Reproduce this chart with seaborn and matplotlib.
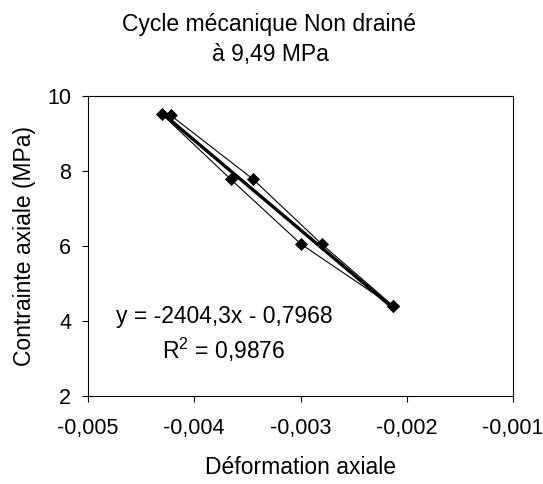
import numpy as np
import pandas as pd
import matplotlib
matplotlib.use("Agg")
import matplotlib.pyplot as plt
import seaborn as sns

# cycle points, in drawing order (up one branch, down the other)
deformation = [-0.002127, -0.002800, -0.003450, -0.004222, -0.004306, -0.003657, -0.002995, -0.002130]
contrainte = [4.40, 6.05, 7.79, 9.485, 9.52, 7.78, 6.05, 4.39]

eq_lines = ["y = -2404,3x - 0,7968", "R$^2$ = 0,9876"]
titre_lines = ["Cycle mécanique Non drainé", "à 9,49 MPa"]
xticks = [-0.005, -0.004, -0.003, -0.002, -0.001]
yticks = [2, 4, 6, 8, 10]

data = pd.DataFrame({"Deformation": deformation, "Contrainte": contrainte})

sns.set_style("ticks")
plt.rcParams["font.family"] = ["Liberation Sans", "DejaVu Sans"]
plt.rcParams["mathtext.fontset"] = "custom"
plt.rcParams["mathtext.rm"] = "Liberation Sans"
# pure black text like the original
plt.rcParams["text.color"] = "black"
plt.rcParams["axes.labelcolor"] = "black"
plt.rcParams["xtick.color"] = "black"
plt.rcParams["ytick.color"] = "black"

W, H = 543, 484
fig = plt.figure(figsize=(W / 100, H / 100), dpi=100)
ax = fig.add_axes([88 / W, 1 - 396 / H, (513 - 88) / W, (396 - 96) / H])

# thin line joining the cycle
sns.lineplot(x="Deformation", y="Contrainte", data=data, sort=False, estimator=None,
             color="black", linewidth=0.8, ax=ax)
# linear trend line (thick)
sns.regplot(x="Deformation", y="Contrainte", data=data, scatter=False, ci=None,
            truncate=True, color="black", line_kws={"linewidth": 2.4}, ax=ax)
sns.scatterplot(x="Deformation", y="Contrainte", data=data, marker="D", s=38,
                color="black", edgecolor="black", ax=ax, zorder=5)

ax.set_xlim(-0.005, -0.001)
ax.set_ylim(2, 10)
ax.set_xticks(xticks)
ax.set_yticks(yticks)
ax.set_xticklabels([f"{v:.3f}".replace(".", ",") for v in xticks])
ax.set_yticklabels([str(v) for v in yticks])
ax.tick_params(direction="out", length=4.5, width=0.8, colors="black", labelsize=15.5)
ax.tick_params(axis="x", pad=11)
ax.tick_params(axis="y", pad=7.5)
for s in ax.spines.values():
    s.set_visible(True)
    s.set_color("black")
    s.set_linewidth(0.8)

ax.set_xlabel("Déformation axiale", fontsize=16.5, color="black")
ax.set_ylabel("Contrainte axiale (MPa)", fontsize=16.5, color="black")
ax.xaxis.set_label_coords(0.5, (396 - 467) / 300)
ax.xaxis.label.set_va("center")
ax.yaxis.set_label_coords((24 - 88) / 425, 0.5)
ax.yaxis.label.set_va("center")

fig.text(269 / W, 1 - 25 / H, titre_lines[0], ha="center", va="center", fontsize=16.5)
fig.text(270 / W, 1 - 55 / H, titre_lines[1], ha="center", va="center", fontsize=16.5)
fig.text(224 / W, 1 - 317 / H, eq_lines[0], ha="center", va="center", fontsize=16.5)
fig.text(224 / W, 1 - 350 / H, eq_lines[1], ha="center", va="center", fontsize=16.5)

fig.savefig("out.png", dpi=100)
